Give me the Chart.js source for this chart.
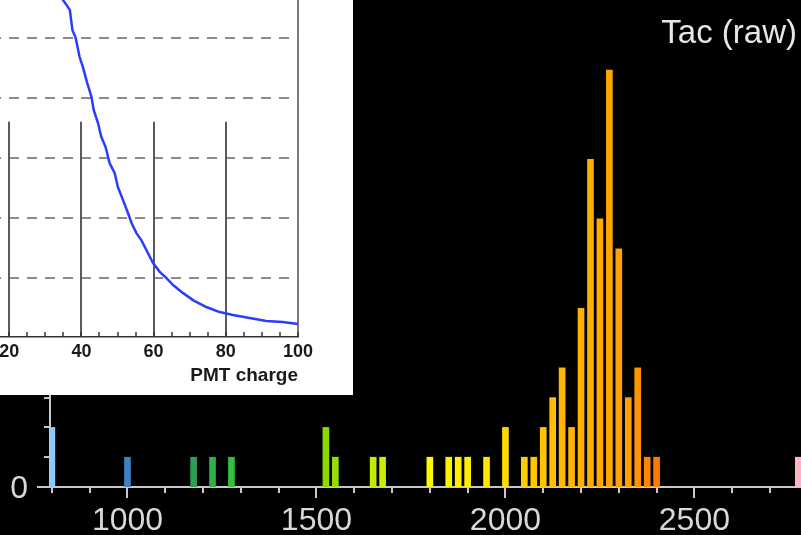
<!DOCTYPE html>
<html>
<head>
<meta charset="utf-8">
<script src="https://cdn.jsdelivr.net/npm/chart.js@4.4.1/dist/chart.umd.min.js"></script>
<style>
  html, body { margin:0; padding:0; background:#000; }
  body { width:801px; height:535px; overflow:hidden; position:relative; }
  #main { position:absolute; left:0; top:0; }
  #insetBox { position:absolute; left:0; top:0; width:353px; height:395px; background:#fff; overflow:hidden; }
  #inset { position:absolute; left:-80px; top:0; }
</style>
</head>
<body>
<canvas id="main" width="801" height="535"></canvas>
<div id="insetBox"><canvas id="inset" width="433" height="395"></canvas></div>
<script>
// ---------- main histogram data: Tac (raw) ----------
const tacBins   = [800, 1000, 1175, 1225, 1275, 1525, 1550, 1650, 1675, 1800, 1850, 1875, 1900, 1950, 2000,
                   2050, 2075, 2100, 2125, 2150, 2175, 2200, 2225, 2250, 2275, 2300, 2325, 2350, 2375, 2400, 2775];
const tacCounts = [2, 1, 1, 1, 1, 2, 1, 1, 1, 1, 1, 1, 1, 1, 2,
                   1, 1, 2, 3, 4, 2, 6, 11, 9, 14, 8, 3, 4, 1, 1, 1];
const tacTickLabels = [1000, 1500, 2000, 2500];
const countTickLabels = [0, 5, 10, 15];

// ---------- inset curve data: PMT charge ----------
const pmtCharge = [34.5, 34.9, 36.8, 37.5, 38.4, 39.5, 40.4, 41.6, 42.8, 43.4, 44.6, 45.5, 46.7, 47.8, 49.2, 50.1,
                   51.5, 52.9, 53.9, 55.2, 56.6, 58.0, 59.8, 61.7, 63.5, 65.4, 68.1, 70.9, 74.6, 78.3, 82.0,
                   86.6, 91.2, 95.8, 100];
const pmtFraction = [1.14, 1.128, 1.095, 1.028, 1.002, 0.938, 0.905, 0.852, 0.805, 0.762, 0.718, 0.672, 0.638, 0.585,
                     0.552, 0.505, 0.462, 0.418, 0.385, 0.352, 0.328, 0.295, 0.252, 0.222, 0.202, 0.178, 0.152,
                     0.128, 0.105, 0.088, 0.078, 0.068, 0.058, 0.055, 0.048];
const pmtTickLabels = [20, 40, 60, 80, 100];
const fractionGrid = [0.2, 0.4, 0.6, 0.8, 1.0];

// colour map along the Tac axis
const colourStops = [
  [800,  [140, 202, 248]],
  [1000, [ 63, 130, 194]],
  [1175, [ 47, 158,  80]],
  [1275, [ 52, 191,  63]],
  [1525, [140, 216,   0]],
  [1675, [204, 239,   0]],
  [1800, [255, 250,   0]],
  [1950, [255, 232,   0]],
  [2050, [255, 204,   0]],
  [2200, [255, 176,   0]],
  [2325, [255, 160,   0]],
  [2400, [255, 122,   0]],
  [2775, [255, 180, 196]]
];
function colourAt(v) {
  if (v <= colourStops[0][0]) return 'rgb(' + colourStops[0][1].join(',') + ')';
  for (let i = 1; i < colourStops.length; i++) {
    const [x1, c1] = colourStops[i];
    const [x0, c0] = colourStops[i - 1];
    if (v <= x1) {
      const t = (v - x0) / (x1 - x0);
      return 'rgb(' + c0.map((c, k) => Math.round(c + (c1[k] - c) * t)).join(',') + ')';
    }
  }
  return 'rgb(' + colourStops[colourStops.length - 1][1].join(',') + ')';
}

const FONT = '"Liberation Sans", Arial, sans-serif';
const axisGrey = '#c8c8c8';

const mainDecor = {
  id: 'mainDecor',
  afterDraw(chart) {
    const { ctx, scales: { x, y } } = chart;
    ctx.save();
    ctx.strokeStyle = axisGrey;
    ctx.lineWidth = 2;
    const y0 = Math.round(y.getPixelForValue(0));
    for (let v = 800; v <= x.max; v += 100) {
      const px = Math.round(x.getPixelForValue(v));
      const len = v % 500 === 0 ? 11 : 6;
      ctx.beginPath(); ctx.moveTo(px, y0); ctx.lineTo(px, y0 + len); ctx.stroke();
    }
    const x0 = x.left;
    for (let v = 0; v <= y.max; v++) {
      const py = Math.round(y.getPixelForValue(v));
      const len = v % 5 === 0 ? 13 : 6;
      ctx.beginPath(); ctx.moveTo(x0, py); ctx.lineTo(x0 - len, py); ctx.stroke();
    }
    ctx.fillStyle = '#e6e6e6';
    ctx.font = '33px ' + FONT;
    ctx.textAlign = 'right';
    ctx.textBaseline = 'alphabetic';
    ctx.fillText('Tac (raw)', chart.chartArea.right - 4, 43);
    ctx.restore();
  }
};

new Chart(document.getElementById('main'), {
  type: 'bar',
  data: {
    datasets: [{
      data: tacBins.map((b, i) => ({ x: b, y: tacCounts[i] })),
      backgroundColor: tacBins.map(colourAt),
      borderWidth: 0,
      barThickness: 6
    }]
  },
  options: {
    responsive: false,
    animation: false,
    devicePixelRatio: 1,
    layout: { padding: { left: 0, right: 0, top: 0, bottom: 0 } },
    plugins: { legend: { display: false }, tooltip: { enabled: false }, title: { display: false } },
    scales: {
      x: {
        type: 'linear',
        min: 795, max: 2782,
        offset: false,
        afterBuildTicks: s => { s.ticks = tacTickLabels.map(v => ({ value: v })); },
        afterFit: s => { s.height = 48; s.paddingLeft = 0; s.paddingRight = 0; },
        grid: { display: false, drawTicks: false },
        border: { display: true, color: axisGrey, width: 2 },
        ticks: { autoSkip: false, maxRotation: 0, padding: 18, color: '#d8d8d8',
                 callback: v => String(v),
                 font: { family: FONT, size: 32, lineHeight: 1 } }
      },
      y: {
        min: 0, max: 16.35,
        afterBuildTicks: s => { s.ticks = countTickLabels.map(v => ({ value: v })); },
        afterFit: s => { s.width = 50; s.paddingTop = 0; s.paddingBottom = 0; },
        grid: { display: false, drawTicks: false },
        border: { display: true, color: axisGrey, width: 2 },
        ticks: { autoSkip: false, padding: 22, labelOffset: 2, color: '#d8d8d8',
                 callback: v => String(v),
                 font: { family: FONT, size: 32, lineHeight: 1 } }
      }
    }
  },
  plugins: [mainDecor]
});

// ---------- inset ----------
const insetDecor = {
  id: 'insetDecor',
  beforeDatasetsDraw(chart) {
    const { ctx, scales: { x, y }, chartArea } = chart;
    ctx.save();
    ctx.strokeStyle = '#5a5a5a';
    ctx.lineWidth = 2;
    const top = y.getPixelForValue(0.722);
    [20, 40, 60, 80].forEach(v => {
      const px = Math.round(x.getPixelForValue(v));
      ctx.beginPath(); ctx.moveTo(px, top); ctx.lineTo(px, chartArea.bottom); ctx.stroke();
    });
    ctx.strokeStyle = '#333';
    ctx.lineWidth = 1.5;
    for (let v = 0; v <= 100; v += 5) {
      const px = Math.round(x.getPixelForValue(v));
      ctx.beginPath(); ctx.moveTo(px, chartArea.bottom); ctx.lineTo(px, chartArea.bottom - 5); ctx.stroke();
    }
    ctx.restore();
  }
};

new Chart(document.getElementById('inset'), {
  type: 'line',
  data: {
    datasets: [{
      data: pmtCharge.map((c, i) => ({ x: c, y: pmtFraction[i] })),
      borderColor: '#2a3cff',
      borderWidth: 2.5,
      pointRadius: 0,
      tension: 0,
      fill: false
    }]
  },
  options: {
    responsive: false,
    animation: false,
    devicePixelRatio: 1,
    layout: { padding: { left: 17, right: 55, top: 0, bottom: 0 } },
    plugins: { legend: { display: false }, tooltip: { enabled: false } },
    scales: {
      x: {
        type: 'linear',
        min: 0, max: 100,
        afterBuildTicks: s => { s.ticks = pmtTickLabels.map(v => ({ value: v })); },
        afterFit: s => { s.height = 58; },
        grid: {
          drawTicks: false,
          color: c => (c.tick && c.tick.value === 100) ? '#7a7a7a' : 'rgba(0,0,0,0)',
          lineWidth: 2
        },
        border: { display: true, color: '#333', width: 1.5 },
        ticks: { autoSkip: false, maxRotation: 0, padding: 6, color: '#1a1a1a',
                 font: { family: FONT, size: 18, weight: 'bold', lineHeight: 1 } },
        title: { display: true, text: 'PMT charge', align: 'end', color: '#1a1a1a',
                 padding: { top: 4, bottom: 10 },
                 font: { family: FONT, size: 19, weight: 'bold', lineHeight: 1 } }
      },
      y: {
        min: 0.005, max: 1.128,
        afterBuildTicks: s => { s.ticks = fractionGrid.map(v => ({ value: v })); },
        grid: { drawTicks: false, color: '#8c8c8c', lineWidth: 2 },
        border: { display: false, dash: [10, 8] },
        ticks: { display: false }
      }
    }
  },
  plugins: [insetDecor]
});
</script>
</body>
</html>
